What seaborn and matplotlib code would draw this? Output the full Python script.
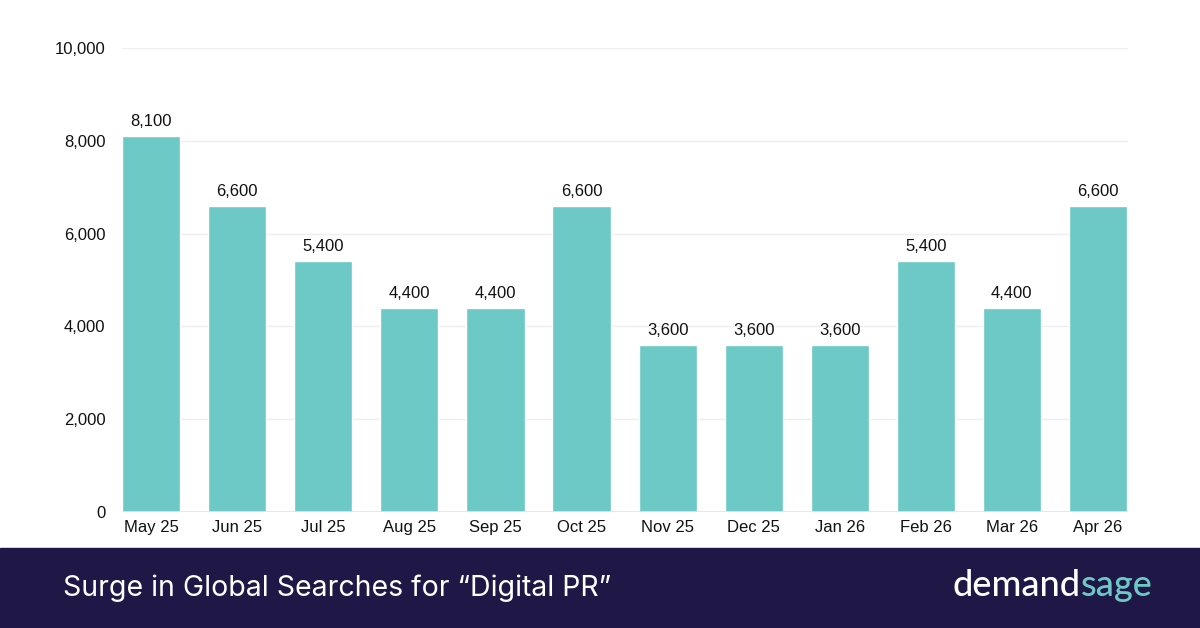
import matplotlib
matplotlib.use('Agg')
import matplotlib.pyplot as plt
import seaborn as sns
import pandas as pd

months = ["May 25", "Jun 25", "Jul 25", "Aug 25", "Sep 25", "Oct 25",
          "Nov 25", "Dec 25", "Jan 26", "Feb 26", "Mar 26", "Apr 26"]
searches = [8100, 6600, 5400, 4400, 4400, 6600, 3600, 3600, 3600, 5400, 4400, 6600]
yticks = [0, 2000, 4000, 6000, 8000, 10000]

title = "Surge in Global Searches for \u201cDigital PR\u201d"

TEAL = "#6CC9C5"
NAVY = "#1F1846"

sns.set_theme(style="white")
plt.rcParams['font.family'] = ['Liberation Sans', 'DejaVu Sans']

df = pd.DataFrame({"month": months, "searches": searches})

fig = plt.figure(figsize=(12, 6.28), dpi=100)
ax = fig.add_axes([122 / 1200, 116 / 628, 1006 / 1200, 464 / 628])

sns.barplot(data=df, x="month", y="searches", color=TEAL, saturation=1,
            width=0.675, ax=ax, zorder=3)

ax.set_ylim(0, 10000)
ax.set_xlim(-0.34, 11.35)
ax.set_yticks(yticks)
ax.set_yticklabels([f"{v:,}" for v in yticks])
ax.yaxis.grid(True, color="#EFEFEF", linewidth=1, zorder=0)
ax.axhline(0, color="#E4E4E4", linewidth=1.2, zorder=4)
for s in ax.spines.values():
    s.set_visible(False)
ax.tick_params(axis="y", length=0, pad=12, labelsize=12, labelcolor="#111111")
ax.tick_params(axis="x", length=0, pad=6, labelsize=12, labelcolor="#111111")
ax.set_xlabel("")
ax.set_ylabel("")

for c in ax.containers:
    ax.bar_label(c, labels=[f"{v:,}" for v in searches], padding=5,
                 fontsize=12, color="#111111")

# footer band
fig.patches.append(plt.Rectangle((0, 0), 1, 80 / 628, transform=fig.transFigure,
                                 color=NAVY, zorder=0))
fig.text(63 / 1200, 40 / 628, title, color="white", fontsize=20.5,
         family=["Inter", "DejaVu Sans"], va="center", ha="left")
t1 = fig.text(953 / 1200, 42 / 628, "demand", color="white", fontsize=26,
              fontweight="medium", family=["Lato", "DejaVu Sans"],
              va="center", ha="left")
fig.canvas.draw()
bb = t1.get_window_extent()
fig.text(bb.x1 / 1200, 42 / 628, "sage", color=TEAL, fontsize=26,
         fontweight="medium", family=["Lato", "DejaVu Sans"],
         va="center", ha="left")

fig.savefig("out.png", dpi=100)
